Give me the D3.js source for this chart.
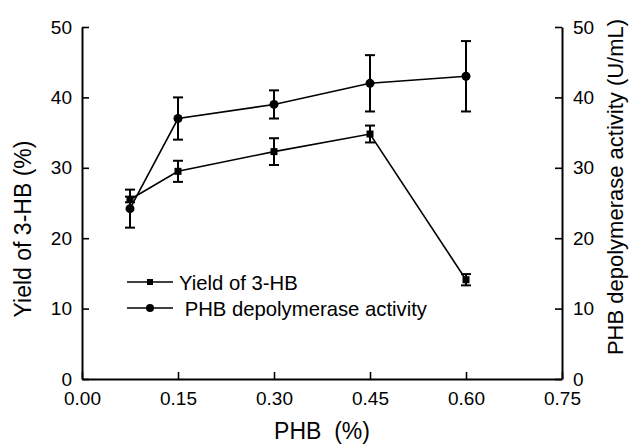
<!DOCTYPE html>
<html>
<head>
<meta charset="utf-8">
<script src="https://cdn.jsdelivr.net/npm/d3@7"></script>
<style>
  body { margin: 0; background: #fff; }
  svg { display: block; }
  text { font-family: "Liberation Sans", Arial, sans-serif; fill: #000; }
</style>
</head>
<body>
<svg id="chart" width="630" height="444"></svg>
<script>
// ---- data ----
const phb = [0.075, 0.15, 0.30, 0.45, 0.60];
const yieldValues = [25.5, 29.5, 32.3, 34.8, 14.1];
const yieldErrors = [0.4, 1.5, 1.9, 1.2, 0.8];
const activityValues = [24.2, 37.0, 39.0, 42.0, 43.0];
const activityErrors = [2.7, 3.0, 2.0, 4.0, 5.0];
const xTicks = [0, 0.15, 0.30, 0.45, 0.60, 0.75];
const yTicks = [0, 10, 20, 30, 40, 50];
const legendLabels = ["Yield of 3-HB", " PHB depolymerase activity"];
const xTitle = "PHB  (%)";
const yLeftTitle = "Yield of 3-HB (%)";
const yRightTitle = "PHB depolymerase activity (U/mL)";

// ---- layout ----
const svg = d3.select("#chart");
const mLeft = 82, mRight = 562, mTop = 27, mBottom = 379;

const x = d3.scaleLinear().domain([0, 0.75]).range([mLeft, mRight]);
const yL = d3.scaleLinear().domain([0, 50]).range([mBottom, mTop]);
const yR = d3.scaleLinear().domain([0, 50]).range([mBottom, mTop]);

function styleAxis(g) {
  g.select(".domain").attr("stroke", "#000").attr("stroke-width", 2);
  g.selectAll(".tick line").attr("stroke", "#000").attr("stroke-width", 1.6);
  g.selectAll(".tick text").attr("font-size", 19).attr("font-family", "Liberation Sans, Arial, sans-serif").attr("fill", "#000");
}

svg.append("g").attr("transform", `translate(0,${mBottom})`)
  .call(d3.axisBottom(x).tickValues(xTicks).tickFormat(d3.format(".2f")).tickSizeInner(-7).tickSizeOuter(0).tickPadding(13))
  .call(styleAxis);

svg.append("g").attr("transform", `translate(${mLeft},0)`)
  .call(d3.axisLeft(yL).tickValues(yTicks).tickFormat(d3.format("d")).tickSizeInner(-7).tickSizeOuter(0).tickPadding(10))
  .call(styleAxis);

svg.append("g").attr("transform", `translate(${mRight},0)`)
  .call(d3.axisRight(yR).tickValues(yTicks).tickFormat(d3.format("d")).tickSizeInner(-7).tickSizeOuter(0).tickPadding(11))
  .call(styleAxis);

// ---- titles ----
svg.append("text").attr("x", 322).attr("y", 439).attr("text-anchor", "middle")
  .attr("font-size", 23).style("white-space", "pre").text(xTitle);
svg.append("text").attr("transform", `translate(31,229) rotate(-90)`)
  .attr("text-anchor", "middle").attr("font-size", 23).text(yLeftTitle);
svg.append("text").attr("transform", `translate(623,187) rotate(-90)`)
  .attr("text-anchor", "middle").attr("font-size", 22).text(yRightTitle);

// ---- series ----
const line = (vals, scale) => d3.line().x((d, i) => x(phb[i])).y(d => scale(d))(vals);

function errorBars(vals, errs, scale) {
  const g = svg.append("g").attr("stroke", "#000").attr("stroke-width", 2);
  vals.forEach((v, i) => {
    const cx = x(phb[i]);
    const y1 = scale(v + errs[i]), y2 = scale(v - errs[i]);
    g.append("line").attr("x1", cx).attr("x2", cx).attr("y1", y1).attr("y2", y2);
    g.append("line").attr("x1", cx - 5).attr("x2", cx + 5).attr("y1", y1).attr("y2", y1);
    g.append("line").attr("x1", cx - 5).attr("x2", cx + 5).attr("y1", y2).attr("y2", y2);
  });
}

errorBars(activityValues, activityErrors, yR);
errorBars(yieldValues, yieldErrors, yL);

svg.append("path").attr("d", line(yieldValues, yL)).attr("fill", "none").attr("stroke", "#000").attr("stroke-width", 1.6);
svg.append("path").attr("d", line(activityValues, yR)).attr("fill", "none").attr("stroke", "#000").attr("stroke-width", 1.6);

svg.append("g").selectAll("rect").data(yieldValues).join("rect")
  .attr("x", (d, i) => x(phb[i]) - 3.5).attr("y", d => yL(d) - 3.5)
  .attr("width", 7).attr("height", 7).attr("fill", "#000");
svg.append("g").selectAll("circle").data(activityValues).join("circle")
  .attr("cx", (d, i) => x(phb[i])).attr("cy", d => yR(d)).attr("r", 4.5).attr("fill", "#000");

// ---- legend ----
const lg = svg.append("g");
const legendY = [282, 308];
legendLabels.forEach((lab, i) => {
  const yy = legendY[i];
  lg.append("line").attr("x1", 127).attr("x2", 173).attr("y1", yy).attr("y2", yy)
    .attr("stroke", "#000").attr("stroke-width", 1.6);
  if (i === 0) {
    lg.append("rect").attr("x", 147).attr("y", yy - 3).attr("width", 6).attr("height", 6).attr("fill", "#000");
  } else {
    lg.append("circle").attr("cx", 150).attr("cy", yy).attr("r", 4).attr("fill", "#000");
  }
  lg.append("text").attr("x", 179).attr("y", yy + 8).attr("font-size", 20.3)
    .style("white-space", "pre").text(lab);
});
</script>
</body>
</html>
